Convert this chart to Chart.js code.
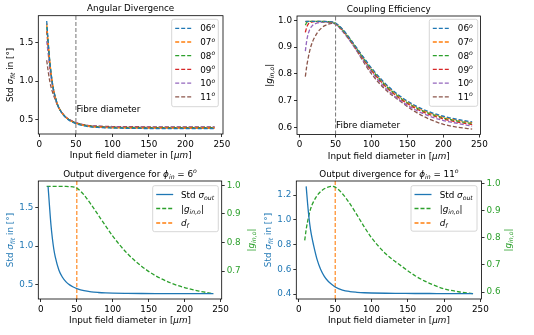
<!DOCTYPE html>
<html>
<head>
<meta charset="utf-8">
<script src="https://cdn.jsdelivr.net/npm/chart.js@4.4.1/dist/chart.umd.min.js"></script>
<style>
  html, body { margin: 0; padding: 0; background: #fff; }
  #wrap { position: relative; width: 534px; height: 335px; background: #fff; }
  #wrap canvas { position: absolute; left: 0; top: 0; }
</style>
</head>
<body>
<div id="wrap">
  <canvas id="cTL" width="534" height="335"></canvas>
  <canvas id="cTR" width="534" height="335"></canvas>
  <canvas id="cBL" width="534" height="335"></canvas>
  <canvas id="cBR" width="534" height="335"></canvas>
</div>
<script>
// ---- data ----
const diamSig = [10, 12, 14, 16, 18, 20, 25, 30, 35, 40, 45, 50, 60, 70, 80, 90, 100, 120, 140, 160, 180, 200, 220, 240];
const diamEff = [8, 10, 12, 14, 16, 18, 20, 25, 30, 35, 40, 45, 50, 60, 70, 80, 90, 100, 120, 140, 160, 180, 200, 220, 240];
const angles = ['06', '07', '08', '09', '10', '11'];

// std of fitted divergence [deg]
const sig06 = [1.78, 1.52, 1.28, 1.10, 0.96, 0.86, 0.69, 0.595, 0.535, 0.495, 0.467, 0.447, 0.419, 0.404, 0.396, 0.391, 0.388, 0.385, 0.383, 0.382, 0.382, 0.381, 0.381, 0.381];
const sig07 = [1.75, 1.51, 1.28, 1.10, 0.96, 0.86, 0.69, 0.597, 0.538, 0.498, 0.470, 0.451, 0.423, 0.408, 0.400, 0.395, 0.392, 0.389, 0.388, 0.387, 0.387, 0.386, 0.386, 0.386];
const sig08 = [1.71, 1.49, 1.27, 1.10, 0.96, 0.86, 0.69, 0.599, 0.540, 0.500, 0.473, 0.454, 0.427, 0.412, 0.404, 0.399, 0.396, 0.393, 0.392, 0.391, 0.391, 0.390, 0.390, 0.390];
const sig09 = [1.65, 1.45, 1.24, 1.08, 0.95, 0.855, 0.69, 0.600, 0.542, 0.502, 0.476, 0.457, 0.430, 0.416, 0.408, 0.403, 0.400, 0.397, 0.396, 0.395, 0.395, 0.394, 0.394, 0.394];
const sig10 = [1.52, 1.36, 1.18, 1.04, 0.93, 0.84, 0.685, 0.600, 0.543, 0.504, 0.478, 0.459, 0.433, 0.420, 0.412, 0.407, 0.404, 0.401, 0.400, 0.399, 0.399, 0.399, 0.399, 0.399];
const sig11 = [1.27, 1.13, 1.01, 0.92, 0.855, 0.80, 0.68, 0.598, 0.543, 0.505, 0.479, 0.457, 0.432, 0.420, 0.414, 0.410, 0.408, 0.406, 0.405, 0.404, 0.404, 0.403, 0.403, 0.403];

// coupling efficiency |g_in,o|
const eff06 = [0.996, 0.996, 0.996, 0.996, 0.996, 0.996, 0.996, 0.996, 0.996, 0.996, 0.995, 0.994, 0.990, 0.966, 0.932, 0.895, 0.858, 0.822, 0.762, 0.717, 0.683, 0.659, 0.642, 0.630, 0.621];
const eff07 = [0.994, 0.996, 0.996, 0.996, 0.996, 0.996, 0.996, 0.996, 0.996, 0.996, 0.995, 0.993, 0.989, 0.965, 0.931, 0.894, 0.856, 0.820, 0.759, 0.714, 0.680, 0.656, 0.639, 0.627, 0.618];
const eff08 = [0.982, 0.992, 0.995, 0.996, 0.996, 0.996, 0.996, 0.996, 0.996, 0.995, 0.995, 0.993, 0.988, 0.963, 0.929, 0.892, 0.853, 0.817, 0.756, 0.711, 0.677, 0.653, 0.636, 0.624, 0.615];
const eff09 = [0.955, 0.975, 0.986, 0.991, 0.993, 0.994, 0.995, 0.995, 0.995, 0.995, 0.994, 0.992, 0.987, 0.961, 0.927, 0.889, 0.850, 0.813, 0.752, 0.707, 0.673, 0.649, 0.632, 0.620, 0.611];
const eff10 = [0.885, 0.925, 0.950, 0.965, 0.975, 0.981, 0.985, 0.990, 0.992, 0.993, 0.992, 0.990, 0.985, 0.958, 0.923, 0.885, 0.846, 0.808, 0.746, 0.701, 0.667, 0.643, 0.626, 0.615, 0.605];
const eff11 = [0.790, 0.830, 0.860, 0.885, 0.905, 0.920, 0.932, 0.955, 0.970, 0.980, 0.986, 0.989, 0.986, 0.962, 0.926, 0.884, 0.840, 0.800, 0.740, 0.698, 0.660, 0.632, 0.612, 0.601, 0.594];

const fibreD = 50;
const xTicks = [0, 50, 100, 150, 200, 250];
const sigTicks = [0.5, 1.0, 1.5];
const effTicks = [0.6, 0.7, 0.8, 0.9, 1.0];
const eff6Ticks = [0.7, 0.8, 0.9, 1.0];
const sig11Ticks = [0.4, 0.6, 0.8, 1.0, 1.2];

// ---- style ----
const FONT = '"DejaVu Sans", sans-serif';
const FS = 8.8;
const C = ['#1f77b4', '#ff7f0e', '#2ca02c', '#d62728', '#9467bd', '#8c564b'];
const DASH = [4, 2];

// matplotlib like 5% margins
function padRange() {
  const all = [].concat.apply([], arguments);
  const lo = Math.min.apply(null, all), hi = Math.max.apply(null, all);
  const m = (hi - lo) * 0.05;
  return [lo - m, hi + m];
}

// ---- rich text (sub / superscripts, italics) ----
function fontOf(p) {
  const s = (p.sub || p.sup) ? FS * 0.7 : FS;
  return (p.it ? 'italic ' : '') + s + 'px ' + FONT;
}
function drawRich(ctx, parts, x, y, color, align, rot) {
  ctx.save();
  ctx.translate(x, y);
  if (rot) ctx.rotate(rot);
  let w = 0;
  parts.forEach(p => { ctx.font = fontOf(p); w += ctx.measureText(p.t).width; });
  let cx = align === 'center' ? -w / 2 : (align === 'right' ? -w : 0);
  ctx.fillStyle = color;
  ctx.textBaseline = 'alphabetic';
  ctx.textAlign = 'left';
  const base = FS * 0.36;
  parts.forEach(p => {
    ctx.font = fontOf(p);
    const dy = p.sub ? FS * 0.22 : (p.sup ? -FS * 0.4 : 0);
    ctx.fillText(p.t, cx, base + dy);
    cx += ctx.measureText(p.t).width;
  });
  ctx.restore();
}

const xLabel = [{t: 'Input field diameter in ['}, {t: 'μm', it: 1}, {t: ']'}];
const sigLabel = [{t: 'Std '}, {t: 'σ', it: 1}, {t: 'fit', it: 1, sub: 1}, {t: ' in [°]'}];
const effLabel = [{t: '|'}, {t: 'g', it: 1}, {t: 'in,o', it: 1, sub: 1}, {t: '|'}];
const angleLabel = a => [{t: a}, {t: 'o', it: 1, sup: 1}];
const outTitle = a => [{t: 'Output divergence for '}, {t: 'ϕ', it: 1}, {t: 'in', it: 1, sub: 1}, {t: ' = ' + a}, {t: 'o', it: 1, sup: 1}];
const twinItems = [
  {label: [{t: 'Std '}, {t: 'σ', it: 1}, {t: 'out', it: 1, sub: 1}], color: C[0], dash: false},
  {label: effLabel, color: C[2], dash: true},
  {label: [{t: 'd', it: 1}, {t: 'f', it: 1, sub: 1}], color: C[1], dash: true}
];

function drawLegend(ctx, L) {
  ctx.save();
  ctx.beginPath();
  ctx.roundRect(L.x, L.y, L.w, L.h, 2);
  ctx.fillStyle = 'rgba(255,255,255,0.8)';
  ctx.fill();
  ctx.strokeStyle = '#cccccc';
  ctx.lineWidth = 0.8;
  ctx.stroke();
  L.items.forEach((it, i) => {
    const y = L.y + L.dy[i];
    ctx.beginPath();
    ctx.setLineDash(it.dash ? DASH : []);
    ctx.strokeStyle = it.color;
    ctx.lineWidth = 1.3;
    ctx.moveTo(L.x + 3.5, y);
    ctx.lineTo(L.x + 20.5, y);
    ctx.stroke();
    ctx.setLineDash([]);
    drawRich(ctx, it.label, L.x + L.tx, y, '#000', 'left', 0);
  });
  ctx.restore();
}

function decoPlugin(d) {
  return {
    id: 'deco',
    afterDraw(chart) {
      const ctx = chart.ctx, a = chart.chartArea;
      ctx.save();
      ctx.strokeStyle = '#000';
      ctx.lineWidth = 0.8;
      ctx.strokeRect(a.left, a.top, a.right - a.left, a.bottom - a.top);
      const mx = (a.left + a.right) / 2, my = (a.top + a.bottom) / 2;
      drawRich(ctx, d.title, mx, a.top - 7.5, '#000', 'center', 0);
      drawRich(ctx, xLabel, mx, a.bottom + 21, '#000', 'center', 0);
      drawRich(ctx, d.yLabel, d.yLabelX, my, d.yColor || '#000', 'center', -Math.PI / 2);
      if (d.y2Label) drawRich(ctx, d.y2Label, d.y2LabelX, my, d.y2Color, 'center', -Math.PI / 2);
      if (d.note) {
        const sx = chart.scales.x, sy = chart.scales.y;
        ctx.font = FS + 'px ' + FONT;
        ctx.fillStyle = '#000';
        ctx.textBaseline = 'alphabetic';
        ctx.textAlign = 'left';
        ctx.fillText(d.note.text, sx.getPixelForValue(d.note.x) + 0.5, sy.getPixelForValue(d.note.y));
      }
      drawLegend(ctx, d.legend);
      ctx.restore();
    }
  };
}

// ---- chart helpers ----
function pts(xs, ys) { return ys.map((y, i) => ({x: xs[i], y: y})); }

function lineSet(xs, ys, color, dashed, axis) {
  return {
    data: pts(xs, ys), borderColor: color, borderWidth: 1.3, borderDash: dashed ? DASH : [],
    pointRadius: 0, fill: false, cubicInterpolationMode: 'monotone', yAxisID: axis || 'y'
  };
}
function vline(x, range, color) {
  return {
    data: [{x: x, y: range[0]}, {x: x, y: range[1]}], borderColor: color, borderWidth: 1.1,
    borderDash: DASH, pointRadius: 0, tension: 0, fill: false, yAxisID: 'y', clip: 0
  };
}
const gridOpts = {display: true, drawOnChartArea: false, drawTicks: true, tickLength: 3, tickWidth: 0.8, tickColor: '#000'};

function yScale(range, ticks, color, pos) {
  return {
    type: 'linear', position: pos, min: range[0], max: range[1], bounds: 'data',
    afterBuildTicks: s => { s.ticks = ticks.map(v => ({value: v})); },
    afterFit: s => { s.width = 30; },
    ticks: {color: color, font: {family: FONT, size: FS}, padding: 2, autoSkip: false, callback: v => v.toFixed(1)},
    grid: gridOpts, border: {display: false}
  };
}
function xScale(range) {
  return {
    type: 'linear', position: 'bottom', min: range[0], max: range[1], bounds: 'data',
    afterBuildTicks: s => { s.ticks = xTicks.map(v => ({value: v})); },
    afterFit: s => { s.height = 30; },
    ticks: {color: '#000', font: {family: FONT, size: FS}, padding: 2, autoSkip: false, maxRotation: 0, callback: v => String(v)},
    grid: gridOpts, border: {display: false}
  };
}

function makeChart(id, area, datasets, scales, deco) {
  const dual = !!scales.y2;
  new Chart(document.getElementById(id), {
    type: 'line',
    data: {datasets: datasets},
    options: {
      responsive: false, animation: false, devicePixelRatio: 1, events: [],
      layout: {
        autoPadding: false,
        padding: {left: area.l - 30, top: area.t, right: 534 - area.r - (dual ? 30 : 0), bottom: 335 - area.b - 30}
      },
      scales: scales,
      plugins: {legend: {display: false}, tooltip: {enabled: false}}
    },
    plugins: [decoPlugin(deco)]
  });
}

const sigAll = [sig06, sig07, sig08, sig09, sig10, sig11];
const effAll = [eff06, eff07, eff08, eff09, eff10, eff11];

// Angular Divergence
const rSig = padRange.apply(null, sigAll);
makeChart('cTL', {l: 38.3, t: 15.7, r: 223, b: 134},
  [vline(fibreD, rSig, '#808080')].concat(sigAll.map((s, i) => lineSet(diamSig, s, C[i], true))),
  {x: xScale(padRange(diamSig)), y: yScale(rSig, sigTicks, '#000', 'left')},
  {title: [{t: 'Angular Divergence'}], yLabel: sigLabel, yLabelX: 9.5,
   note: {text: 'Fibre diameter', x: fibreD, y: 0.6},
   legend: {x: 171.7, y: 19.3, w: 46.6, h: 87.4, tx: 28.5, dy: [9, 22.7, 36.4, 50.1, 63.8, 77.5],
            items: angles.map((a, i) => ({label: angleLabel(a), color: C[i], dash: true}))}});

// Coupling Efficiency
const rEff = padRange.apply(null, effAll);
makeChart('cTR', {l: 297, t: 16, r: 480.5, b: 134.5},
  [vline(fibreD, rEff, '#808080')].concat(effAll.map((s, i) => lineSet(diamEff, s, C[i], true))),
  {x: xScale(padRange(diamEff)), y: yScale(rEff, effTicks, '#000', 'left')},
  {title: [{t: 'Coupling Efficiency'}], yLabel: effLabel, yLabelX: 269,
   note: {text: 'Fibre diameter', x: fibreD, y: 0.6},
   legend: {x: 429.3, y: 19.3, w: 48.4, h: 87, tx: 28.5, dy: [9, 22.7, 36.4, 50.1, 63.8, 77.5],
            items: angles.map((a, i) => ({label: angleLabel(a), color: C[i], dash: true}))}});

// Output divergence, 6 deg
const rS6 = padRange(sig06), rE6 = padRange(eff06);
makeChart('cBL', {l: 38.3, t: 181, r: 221.7, b: 299},
  [lineSet(diamSig, sig06, C[0], false), lineSet(diamEff, eff06, C[2], true, 'y2'), vline(fibreD, rS6, C[1])],
  {x: xScale(padRange(diamSig, diamEff)), y: yScale(rS6, sigTicks, C[0], 'left'), y2: yScale(rE6, eff6Ticks, C[2], 'right')},
  {title: outTitle('6'), yLabel: sigLabel, yLabelX: 9.5, yColor: C[0], y2Label: effLabel, y2LabelX: 250.7, y2Color: C[2],
   legend: {x: 152.7, y: 185.7, w: 65.6, h: 46, tx: 28.3, dy: [8.8, 22.8, 37.3], items: twinItems}});

// Output divergence, 11 deg
const rS11 = padRange(sig11), rE11 = padRange(eff11);
makeChart('cBR', {l: 296.3, t: 181, r: 481.5, b: 299},
  [lineSet(diamSig, sig11, C[0], false), lineSet(diamEff, eff11, C[2], true, 'y2'), vline(fibreD, rS11, C[1])],
  {x: xScale(padRange(diamSig, diamEff)), y: yScale(rS11, sig11Ticks, C[0], 'left'), y2: yScale(rE11, effTicks, C[2], 'right')},
  {title: outTitle('11'), yLabel: sigLabel, yLabelX: 268, yColor: C[0], y2Label: effLabel, y2LabelX: 507.5, y2Color: C[2],
   legend: {x: 411, y: 185.7, w: 66, h: 45.5, tx: 28.7, dy: [8.8, 22.8, 37.3], items: twinItems}});
</script>
</body>
</html>
